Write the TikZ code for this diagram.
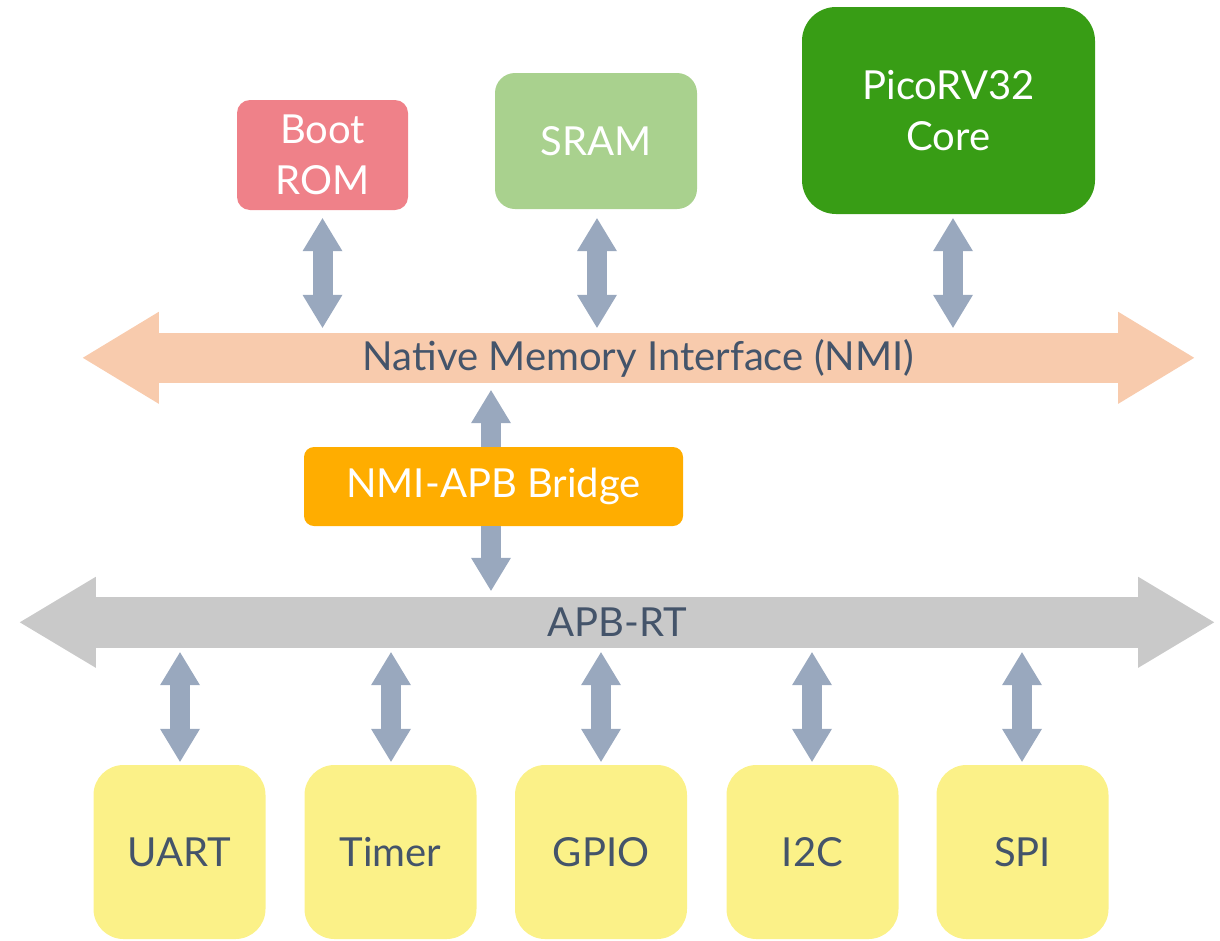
\documentclass[tikz,border=0pt]{standalone}
\usepackage{fontspec}
\setmainfont{Lato}
\usetikzlibrary{arrows.meta,calc}
\definecolor{bootcol}{HTML}{EF8189}
\definecolor{sramcol}{HTML}{A9D18E}
\definecolor{corecol}{HTML}{389D15}
\definecolor{bridgecol}{HTML}{FFAD00}
\definecolor{periphcol}{HTML}{FBF188}
\definecolor{nmicol}{HTML}{F8CBAD}
\definecolor{apbcol}{HTML}{C9C9C9}
\definecolor{arrcol}{HTML}{99A8BE}
\definecolor{txtcol}{HTML}{44546A}
\tikzset{
  blk/.style={inner sep=0pt, align=center, font=\fontsize{40}{51}\selectfont},
  lighttext/.style={text=white},
  darktext/.style={text=txtcol},
  periph/.style={blk, darktext, fill=periphcol, rounded corners=30pt,
    minimum width=172pt, minimum height=174pt},
  bus/.style={inner sep=0pt, darktext, font=\fontsize{40}{46}\selectfont},
  link/.style={draw=arrcol, line width=20pt, {Triangle[width=40pt,length=33pt,line width=0pt]}-{Triangle[width=40pt,length=33pt,line width=0pt]}},
  uplink/.style={draw=arrcol, line width=20pt, -{Triangle[width=40pt,length=33pt,line width=0pt]}}
}
\begin{document}
\begin{tikzpicture}[x=1pt,y=-1pt]
\useasboundingbox (0,0) rectangle (1220,940);

% NMI bus
\node[bus, fill=nmicol, minimum width=959pt, minimum height=50pt] (nmi) at (638.5,358) {Native Memory Interface (NMI)};
\fill[nmicol] (nmi.north west) ++(0,-21) -- ++(-76,46) -- ++(76,46) -- cycle;
\fill[nmicol] (nmi.north east) ++(0,-21) -- ++(76,46) -- ++(-76,46) -- cycle;

% APB bus
\node[bus, fill=apbcol, minimum width=1042pt, minimum height=51pt] (apb) at (617,622.5) {APB-RT};
\fill[apbcol] (apb.north west) ++(0,-20) -- ++(-76,45.5) -- ++(76,45.5) -- cycle;
\fill[apbcol] (apb.north east) ++(0,-20) -- ++(76,45.5) -- ++(-76,45.5) -- cycle;

% top blocks
\node[blk, lighttext, fill=bootcol, rounded corners=13pt, minimum width=171pt, minimum height=110pt] (boot) at (322.5,155) {Boot\\ROM};
\node[blk, lighttext, fill=sramcol, rounded corners=20pt, minimum width=202pt, minimum height=136pt] (sram) at (596,141) {SRAM};
\node[blk, lighttext, fill=corecol, rounded corners=34pt, minimum width=293pt, minimum height=207pt] (core) at (948.5,110.5) {PicoRV32\\Core};

% bridge
\node[blk, lighttext, fill=bridgecol, rounded corners=10pt, minimum width=379pt, minimum height=79pt] (bridge) at (493.5,486.5) {NMI-APB Bridge};

% peripherals
\node[periph] (uart) at (179.5,852) {UART};
\node[periph] (timer) at (390.5,852) {Timer};
\node[periph] (gpio) at (601,852) {GPIO};
\node[periph] (i2c) at (812.5,852) {I2C};
\node[periph] (spi) at (1022.5,852) {SPI};

% links to NMI
\draw[link, shorten <=8pt, shorten >=5pt] (boot.south) -- (boot.south |- nmi.north);
\draw[link, shorten <=9pt, shorten >=5pt] ([xshift=1pt]sram.south) -- ([xshift=1pt]sram.south |- nmi.north);
\draw[link, shorten <=4pt, shorten >=5pt] ([xshift=4.5pt]core.south) -- ([xshift=4.5pt]core.south |- nmi.north);

% bridge links
\draw[uplink, shorten >=7pt] ([xshift=-2.5pt]bridge.north) -- ([xshift=-2.5pt]bridge.north |- nmi.south);
\draw[uplink, shorten >=6pt] ([xshift=-2.5pt]bridge.south) -- ([xshift=-2.5pt]bridge.south |- apb.north);

% links to peripherals
\foreach \p/\dx in {uart/0.5, timer/0.5, gpio/0, i2c/-0.5, spi/-0.5} {
  \draw[link, shorten <=4pt, shorten >=3pt] ([xshift=\dx pt]\p.north |- apb.south) -- ([xshift=\dx pt]\p.north);
}
\end{tikzpicture}
\end{document}
